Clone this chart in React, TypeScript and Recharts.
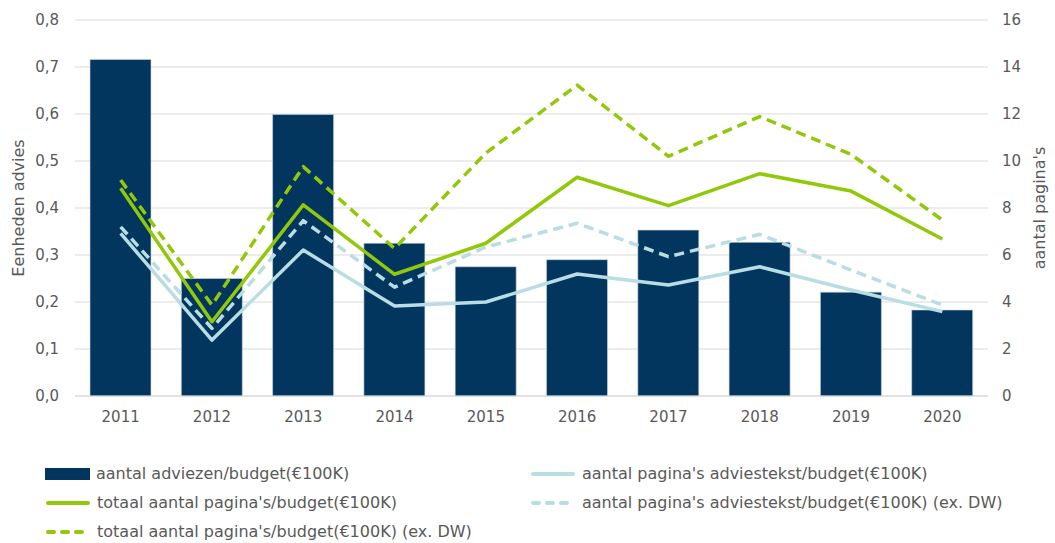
import {
  ComposedChart,
  Bar,
  Line,
  XAxis,
  YAxis,
  CartesianGrid,
} from "recharts";

const years = ["2011", "2012", "2013", "2014", "2015", "2016", "2017", "2018", "2019", "2020"];

// left axis: eenheden advies
const adviezen = [0.716, 0.25, 0.599, 0.325, 0.275, 0.29, 0.353, 0.327, 0.221, 0.183];

// right axis: pagina's
const adviestekst = [6.92, 2.38, 6.21, 3.83, 4.0, 5.19, 4.72, 5.5, 4.51, 3.59];
const totaal = [8.84, 3.16, 8.13, 5.18, 6.5, 9.31, 8.1, 9.46, 8.72, 6.68];
const adviestekstExDW = [7.2, 2.88, 7.46, 4.63, 6.34, 7.35, 5.93, 6.88, 5.36, 3.87];
const totaalExDW = [9.19, 3.87, 9.76, 6.28, 10.34, 13.23, 10.2, 11.89, 10.28, 7.49];

const leftTicks = [0, 0.1, 0.2, 0.3, 0.4, 0.5, 0.6, 0.7, 0.8];
const rightTicks = [0, 2, 4, 6, 8, 10, 12, 14, 16];

const NAVY = "#02365f";
const GREEN = "#92c80a";
const LIGHTBLUE = "#b8dde3";
const TEXT = "#595959";
const FONT = "'DejaVu Sans', Verdana, sans-serif";

const data = years.map((y, i) => ({
  year: y,
  adviezen: adviezen[i],
  adviestekst: adviestekst[i],
  totaal: totaal[i],
  adviestekstExDW: adviestekstExDW[i],
  totaalExDW: totaalExDW[i],
}));

const legendItems = [
  { label: "aantal adviezen/budget(€100K)", kind: "bar", color: NAVY, dashed: false },
  { label: "aantal pagina's adviestekst/budget(€100K)", kind: "line", color: LIGHTBLUE, dashed: false },
  { label: "totaal aantal pagina's/budget(€100K)", kind: "line", color: GREEN, dashed: false },
  { label: "aantal pagina's adviestekst/budget(€100K) (ex. DW)", kind: "line", color: LIGHTBLUE, dashed: true },
  { label: "totaal aantal pagina's/budget(€100K) (ex. DW)", kind: "line", color: GREEN, dashed: true },
];

function LegendMarker({ kind, color, dashed }: { kind: string; color: string; dashed: boolean }) {
  if (kind === "bar") {
    return <span style={{ display: "inline-block", width: 45, height: 12, background: color }} />;
  }
  return (
    <svg width={46} height={12} style={{ display: "block" }}>
      <line
        x1={3}
        y1={6}
        x2={43}
        y2={6}
        stroke={color}
        strokeWidth={4}
        strokeLinecap="round"
        strokeDasharray={dashed ? "6 8" : undefined}
      />
    </svg>
  );
}

export default function App() {
  return (
    <div style={{ position: "absolute", left: 0, top: 0, width: 1055, height: 543, background: "#fff", fontFamily: FONT }}>
      <ComposedChart
        width={1055}
        height={432}
        data={data}
        margin={{ top: 20, right: 0, left: 0, bottom: 0 }}
        style={{ fontFamily: FONT }}
      >
        <CartesianGrid vertical={false} stroke="#d9d9d9" yAxisId="left" />
        <XAxis
          dataKey="year"
          height={36}
          tickLine={false}
          axisLine={{ stroke: "#d9d9d9" }}
          tick={{ fill: TEXT, fontSize: 15 }}
          tickMargin={9}
        />
        <YAxis
          yAxisId="left"
          orientation="left"
          width={75}
          domain={[0, 0.8]}
          ticks={leftTicks}
          tickFormatter={(v: number) => v.toFixed(1).replace(".", ",")}
          tickLine={false}
          axisLine={false}
          tick={{ fill: TEXT, fontSize: 15 }}
          tickMargin={10}
          label={{
            value: "Eenheden advies",
            angle: -90,
            position: "insideLeft",
            offset: 18,
            style: { fill: TEXT, fontSize: 16, textAnchor: "middle" },
          }}
        />
        <YAxis
          yAxisId="right"
          orientation="right"
          width={67}
          domain={[0, 16]}
          ticks={rightTicks}
          tickLine={false}
          axisLine={false}
          tick={{ fill: TEXT, fontSize: 15, textAnchor: "start" }}
          tickMargin={8}
          label={{
            value: "aantal pagina's",
            angle: -90,
            position: "insideRight",
            offset: 16,
            style: { fill: TEXT, fontSize: 16, textAnchor: "middle" },
          }}
        />
        <Bar
          yAxisId="left"
          dataKey="adviezen"
          fill={NAVY}
          stroke="#c9d9e6"
          strokeWidth={0.6}
          barSize={61}
          isAnimationActive={false}
        />
        <Line
          yAxisId="right"
          dataKey="adviestekst"
          stroke={LIGHTBLUE}
          strokeWidth={3.5}
          dot={false}
          activeDot={false}
          strokeLinejoin="round"
          isAnimationActive={false}
        />
        <Line
          yAxisId="right"
          dataKey="adviestekstExDW"
          stroke={LIGHTBLUE}
          strokeWidth={3.5}
          strokeDasharray="10 6"
          dot={false}
          activeDot={false}
          strokeLinejoin="round"
          isAnimationActive={false}
        />
        <Line
          yAxisId="right"
          dataKey="totaal"
          stroke={GREEN}
          strokeWidth={3.5}
          dot={false}
          activeDot={false}
          strokeLinejoin="round"
          isAnimationActive={false}
        />
        <Line
          yAxisId="right"
          dataKey="totaalExDW"
          stroke={GREEN}
          strokeWidth={3.5}
          strokeDasharray="10 6"
          dot={false}
          activeDot={false}
          strokeLinejoin="round"
          isAnimationActive={false}
        />
      </ComposedChart>

      {/* legend, two columns like the original */}
      <div
        style={{
          position: "absolute",
          left: 45,
          top: 464,
          display: "grid",
          gridTemplateColumns: "485px 480px",
          rowGap: 9,
          color: TEXT,
          fontSize: 16,
          lineHeight: "20px",
        }}
      >
        {legendItems.map((it) => (
          <div key={it.label} style={{ display: "flex", alignItems: "center", gap: 6, whiteSpace: "nowrap" }}>
            <LegendMarker kind={it.kind} color={it.color} dashed={it.dashed} />
            <span>{it.label}</span>
          </div>
        ))}
      </div>
    </div>
  );
}
